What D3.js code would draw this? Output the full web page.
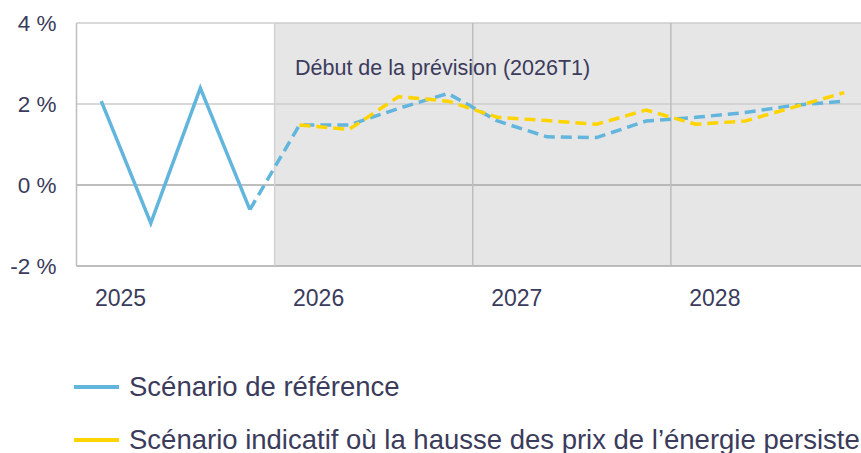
<!DOCTYPE html>
<html lang="fr">
<head>
    <meta charset="UTF-8">
    <title>Scénarios d'inflation</title>
    <script src="https://cdnjs.cloudflare.com/ajax/libs/d3/7.8.5/d3.min.js"></script>
    <style>
        body {
            margin: 0;
            padding: 0;
            background: #fff;
            font-family: "Liberation Sans", Arial, sans-serif;
        }
        svg {
            display: block;
        }
        .txt {
            fill: #3b3b5c;
        }
    </style>
</head>
<body>
    <svg width="861" height="453"></svg>
    <script>
        // data
        const years = ["2025", "2026", "2027", "2028"];
        const quarters = ["2025T1", "2025T2", "2025T3", "2025T4",
                          "2026T1", "2026T2", "2026T3", "2026T4",
                          "2027T1", "2027T2", "2027T3", "2027T4",
                          "2028T1", "2028T2", "2028T3", "2028T4"];
        const reference = [2.07, -0.94, 2.39, -0.61,
                           1.48, 1.48, 1.89, 2.26,
                           1.58, 1.19, 1.17, 1.58,
                           1.67, 1.79, 1.97, 2.07];
        const energy = [null, null, null, null,
                        1.48, 1.37, 2.18, 2.07,
                        1.67, 1.59, 1.50, 1.85,
                        1.50, 1.58, 1.93, 2.28];
        const yTicks = [-2, 0, 2, 4];
        const forecastStart = 4; // index of 2026T1
        const legendLabels = ["Scénario de référence",
                              "Scénario indicatif où la hausse des prix de l’énergie persiste"];

        const blue = "#62b5dd";
        const yellow = "#ffd400";

        const svg = d3.select("svg");
        const plotLeft = 76.5, plotRight = 869, plotTop = 23, plotBottom = 266;

        // x: quarter index 0..16 (each point sits in the middle of its quarter)
        const x = d3.scaleLinear().domain([0, quarters.length]).range([plotLeft, plotRight]);
        const y = d3.scaleLinear().domain([-2, 4]).range([plotBottom, plotTop]);

        // shaded forecast area
        svg.append("rect")
            .attr("x", x(forecastStart))
            .attr("y", plotTop)
            .attr("width", 861 - x(forecastStart))
            .attr("height", plotBottom - plotTop)
            .attr("fill", "#e6e6e6");

        // horizontal grid
        svg.append("g")
            .selectAll("line")
            .data(yTicks)
            .enter().append("line")
            .attr("x1", plotLeft)
            .attr("x2", 861)
            .attr("y1", d => y(d))
            .attr("y2", d => y(d))
            .attr("stroke", d => (d === 0 || d === -2) ? "#a8a8a8" : "#cccccc")
            .attr("stroke-width", 1.5);

        // vertical lines: left axis and year boundaries
        const vlines = [0, 4, 8, 12];
        svg.append("g")
            .selectAll("line")
            .data(vlines)
            .enter().append("line")
            .attr("x1", d => x(d))
            .attr("x2", d => x(d))
            .attr("y1", plotTop)
            .attr("y2", plotBottom)
            .attr("stroke", d => d === 4 ? "#d2d2d2" : "#bdbdbd")
            .attr("stroke-width", 1.5);

        // y axis labels
        const yAxis = svg.append("g")
            .attr("transform", `translate(${plotLeft - 20},0)`)
            .call(d3.axisLeft(y).tickValues(yTicks).tickSize(0).tickFormat(d => `${d} %`));
        yAxis.select(".domain").remove();
        yAxis.selectAll("text")
            .attr("class", "txt")
            .attr("fill", null)
            .attr("x", 0)
            .style("font-family", "'Liberation Sans', Arial, sans-serif")
            .style("font-size", "22.5px");

        // year labels
        svg.append("g")
            .selectAll("text")
            .data(years)
            .enter().append("text")
            .attr("class", "txt")
            .attr("x", (d, i) => x(i * 4) + 44)
            .attr("y", 306)
            .attr("text-anchor", "middle")
            .style("font-size", "23px")
            .text(d => d);

        // annotation
        svg.append("text")
            .attr("class", "txt")
            .attr("x", 295)
            .attr("y", 75)
            .style("font-size", "21.5px")
            .text("Début de la prévision (" + quarters[forecastStart] + ")");

        const line = d3.line()
            .defined(d => d.v !== null)
            .x(d => x(d.i + 0.5))
            .y(d => y(d.v));

        const refPts = reference.map((v, i) => ({ i, v }));
        const enPts = energy.map((v, i) => ({ i, v }));

        // historical (solid)
        svg.append("path")
            .datum(refPts.slice(0, forecastStart))
            .attr("d", line)
            .attr("fill", "none")
            .attr("stroke", blue)
            .attr("stroke-width", 3.5);

        // reference forecast (dashed)
        svg.append("path")
            .datum(refPts.slice(forecastStart - 1))
            .attr("d", line)
            .attr("fill", "none")
            .attr("stroke", blue)
            .attr("stroke-width", 3.5)
            .attr("stroke-dasharray", "11,6");

        // energy scenario (dashed)
        svg.append("path")
            .datum(enPts)
            .attr("d", line)
            .attr("fill", "none")
            .attr("stroke", yellow)
            .attr("stroke-width", 3.5)
            .attr("stroke-dasharray", "11,6");

        // legend
        const legend = svg.append("g")
            .selectAll("g")
            .data(legendLabels)
            .enter().append("g")
            .attr("transform", (d, i) => `translate(0,${387 + i * 53})`);

        legend.append("line")
            .attr("x1", 74)
            .attr("x2", 119)
            .attr("stroke", (d, i) => i === 0 ? blue : yellow)
            .attr("stroke-width", 4);

        legend.append("text")
            .attr("class", "txt")
            .attr("x", 129)
            .attr("y", 8.5)
            .style("font-size", "27.5px")
            .text(d => d);
    </script>
</body>
</html>
